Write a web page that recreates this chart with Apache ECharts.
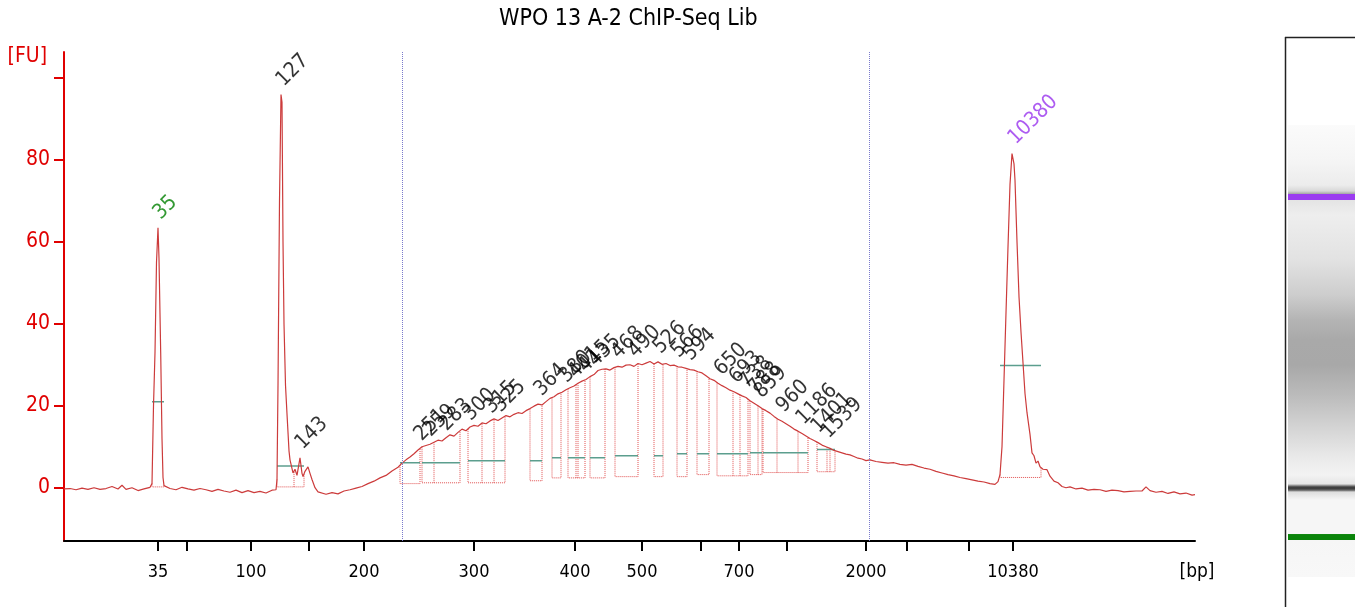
<!DOCTYPE html>
<html>
<head>
<meta charset="utf-8">
<script src="https://cdn.jsdelivr.net/npm/echarts@6/dist/echarts.min.js"></script>
<style>
  html, body { margin: 0; padding: 0; background: #fff; }
  #chart { width: 1355px; height: 607px; }
</style>
</head>
<body>
<div id="chart"></div>
<script>
// ladder: sizes (bp) and their migration position (data points)
var ladderBp = [35, 50, 100, 150, 200, 300, 400, 500, 600, 700, 1000, 2000, 3000, 7000, 10380];
var ladderX  = [94, 123, 187, 245, 300, 410, 511, 578, 637, 675, 723, 802, 843, 905, 949];
var labeledBp = [35, 100, 200, 300, 400, 500, 700, 2000, 10380];

var yTicks  = [0, 20, 40, 60, 80, 100];
var yLabels = [0, 20, 40, 60, 80];

// electropherogram trace
var traceX = [0, 6, 12, 18, 24, 30, 36, 42, 48, 54, 58, 62, 68, 74, 80, 86,
  87, 88, 89.5, 91, 92.5, 94, 95, 96.7, 98, 99, 100, 102,
  106, 112, 118, 124, 130, 136, 142, 148, 154, 160, 166, 172, 178, 184, 190, 196, 202, 208, 212,
  213, 214, 215.5, 217, 218, 219, 220, 221.5, 223, 225, 226, 229, 231, 233, 236, 238, 239, 241, 244, 246, 248, 251, 254,
  256, 262, 268, 274, 280, 286, 292, 298, 304, 310, 316, 322, 328, 334, 338,
  342, 346, 350, 354, 358, 362, 366, 370, 374, 378, 382, 386, 390, 394, 398, 402, 406, 410, 414, 418,
  422, 426, 430, 434, 438, 442, 446, 450, 454, 458, 462, 466, 470, 474, 478, 482, 486, 490, 494, 498,
  502, 506, 510, 514, 518, 522, 526, 530, 534, 538, 542, 546, 550, 554, 558, 562, 566, 570, 574, 578,
  582, 586, 590, 594, 598, 602, 606, 610, 614, 618, 622, 626, 630, 634, 638, 642, 646, 650, 654, 658,
  662, 666, 670, 674, 678, 682, 686, 690, 694, 698, 702, 706, 710, 714, 718, 722, 726, 730, 734, 738,
  742, 746, 750, 754, 758, 762, 766, 770, 774, 778, 782, 786, 790, 794, 798, 802, 806,
  812, 818, 824, 830, 836, 842, 848, 854, 860, 866, 872, 878, 884, 890, 896, 902, 908, 914, 920, 926, 931,
  934, 936, 938, 940, 942, 944, 946, 948, 949, 950, 951, 953, 955, 957, 959, 961, 963, 966, 968, 970, 972, 974, 976,
  979, 983, 986, 990, 994, 998, 1002, 1006, 1012, 1018, 1024, 1030, 1036, 1042, 1048, 1054, 1060, 1066, 1072, 1078,
  1082, 1086, 1092, 1098, 1104, 1110, 1116, 1122, 1128, 1131];
var traceFU = [-0.3, -0.2, -0.5, -0.1, -0.4, 0.0, -0.4, -0.2, 0.3, -0.3, 0.6, -0.4, 0.0, -0.7, -0.3, 0.1,
  0.2, 1, 20, 33, 55, 63.4, 56, 33, 12, 2.5, 0.5, 0.3,
  -0.2, -0.5, 0.1, -0.3, -0.6, -0.2, -0.5, -0.9, -0.4, -0.8, -1.1, -0.6, -1.2, -0.7, -1.2, -0.9, -1.3, -0.6, -0.5,
  2, 25, 70, 95.9, 94, 60, 40, 25, 18, 9, 6.8, 3.6, 4.5, 3.0, 7.3, 3.5, 2.7, 4, 5.1, 3.5, 2, 0, -1,
  -1.0, -1.6, -1.2, -1.5, -0.8, -0.5, -0.1, 0.3, 1.0, 1.6, 2.4, 3.0, 4.1, 5.0, 6.0,
  6.8, 7.5, 8.3, 9.2, 10.0, 10.3, 10.6, 11.1, 11.6, 11.4, 12.2, 12.9, 12.6, 13.5, 14.3, 13.9, 14.8, 15.2, 15.0, 15.8,
  15.6, 16.3, 16.8, 16.4, 17.0, 17.6, 17.3, 17.9, 18.3, 18.1, 18.8, 19.3, 19.9, 20.4, 20.2, 21.0, 21.8, 22.2, 22.9, 23.3,
  23.9, 24.4, 24.8, 25.5, 26.0, 26.4, 27.1, 27.6, 28.6, 28.9, 29.0, 28.7, 29.3, 29.6, 29.4, 29.9, 30.0, 29.6, 30.3, 30.0,
  30.4, 30.8, 30.2, 30.7, 30.1, 30.3, 29.8, 29.9, 29.5, 29.4, 29.1, 28.8, 28.7, 28.3, 28.0, 27.3, 26.6, 26.2, 25.5, 24.9,
  24.4, 23.8, 23.4, 22.9, 22.4, 22.0, 21.2, 20.6, 20.0, 19.3, 18.8, 18.2, 17.4, 16.7, 16.2, 15.6, 15.0, 14.3, 13.8, 13.2,
  12.6, 12.0, 11.5, 11.0, 10.4, 10.0, 9.6, 9.1, 8.8, 8.5, 8.2, 8.0, 7.6, 7.2, 7.0, 6.6, 6.8,
  6.4, 6.2, 6.0, 6.1, 5.7, 5.5, 5.7, 5.2, 4.8, 4.5, 4.0, 3.6, 3.2, 2.9, 2.5, 2.2, 1.9, 1.6, 1.4, 1.0, 0.8,
  1.5, 3.2, 10, 26.3, 42.7, 58.8, 74, 81.5, 81.7, 79, 75, 60, 46.6, 38, 30.5, 23, 18.3, 13, 8.5, 7.8, 6.0, 6.5, 5.1,
  4.5, 4.4, 2.8, 1.6, 1.2, 0.3, 0.0, 0.2, -0.3, -0.1, -0.6, -0.4, -0.5, -0.9, -0.6, -0.7, -1.0, -0.9, -0.8, -0.8,
  0.2, -0.7, -1.1, -0.9, -1.4, -1.0, -1.5, -1.3, -1.8, -1.7];

// region of interest markers
var regionMarks = [338, 805];

// integrated peaks: start / end / baseline / half-height line / internal splits
var boxStart  = [88, 213, 336, 358, 404, 466, 488, 504, 526, 551, 590, 613, 633, 653, 686, 699, 753, 936];
var boxEnd    = [100, 240, 356, 396, 441, 478, 497, 521, 541, 574, 599, 623, 645, 684, 698, 744, 771, 977];
var boxBase   = [0.2, 0.2, 1.0, 1.2, 1.2, 1.7, 2.4, 2.4, 2.4, 2.7, 2.7, 2.7, 3.2, 2.9, 3.2, 3.7, 3.9, 2.5];
var boxHalf   = [21, 5.3, 6.1, 6.1, 6.6, 6.6, 7.3, 7.3, 7.3, 7.8, 7.8, 8.3, 8.3, 8.3, 8.5, 8.5, 9.3, 29.8];
var boxSplits = [[], [230], [], [370], [418, 430], [], [], [512, 514], [], [], [], [], [], [669, 676], [694], [713, 734], [763, 766], []];

// peak size labels
var peakText = ['35', '127', '143', '251', '259', '283', '300', '315', '325', '364', '380', '401', '415', '435',
  '468', '490', '526', '566', '594', '650', '693', '738', '788', '859', '960', '1186', '1401', '1539', '10380'];
var peakX = [94, 217, 236, 355, 364, 380, 404, 425, 434, 475, 500, 509, 519, 529,
  552, 569, 594, 612, 624, 655, 670, 680, 689, 695, 717, 737, 752, 762, 949];

// gel lane (virtual gel)
var gelOffsets = [0, 0.077, 0.133, 0.146, 0.152, 0.1527, 0.166, 0.167, 0.199, 0.299, 0.376, 0.431, 0.476, 0.531,
  0.597, 0.664, 0.730, 0.774, 0.794, 0.800, 0.803, 0.808, 0.812, 0.830, 0.905, 0.906, 0.918, 0.919, 1];
var gelColors = ['#fbfbfb', '#f5f5f5', '#ececec', '#d8d8d8', '#a8a8a8', '#9b3cf0', '#9b3cf0', '#e4e4e4', '#eeeeee',
  '#e2e2e2', '#cdcdcd', '#b4b4b4', '#a9a9a9', '#a8a8a8', '#bbbbbb', '#d2d2d2', '#e8e8e8', '#f3f3f3', '#e6e6e6',
  '#555555', '#333333', '#666666', '#dddddd', '#f6f6f6', '#f6f6f6', '#0a840a', '#0a840a', '#f6f6f6', '#f8f8f8'];

var font = '"DejaVu Sans Condensed", "DejaVu Sans", sans-serif';

function traceAt(x) {
  for (var i = 1; i < traceX.length; i++) {
    if (traceX[i] >= x) {
      var f = (x - traceX[i - 1]) / (traceX[i] - traceX[i - 1]);
      return traceFU[i - 1] + f * (traceFU[i] - traceFU[i - 1]);
    }
  }
  return traceFU[traceFU.length - 1];
}

function bpAt(x) {
  var i = ladderX.indexOf(x);
  return i < 0 ? '' : String(ladderBp[i]);
}

var traceData = traceX.map(function (x, i) { return [x, traceFU[i]]; });

var boxLines = [];
var halfLines = [];
boxStart.forEach(function (s, i) {
  var e = boxEnd[i], b = boxBase[i];
  boxLines.push({ coords: [[s, traceAt(s)], [s, b], [e, b], [e, traceAt(e)]] });
  boxSplits[i].forEach(function (d) {
    boxLines.push({ coords: [[d, b], [d, traceAt(d)]] });
  });
  halfLines.push({ coords: [[s, boxHalf[i]], [e, boxHalf[i]]] });
});

var labelData = peakX.map(function (x, i) {
  var t = peakText[i];
  var c = '#000';
  if (t === '35') c = '#008000';
  if (t === '10380') c = '#9933ee';
  return { value: [x, traceAt(x)], label: { formatter: t, color: c } };
});

var labeledX = labeledBp.map(function (bp) { return ladderX[ladderBp.indexOf(bp)]; });

var gelStops = gelOffsets.map(function (o, i) { return { offset: o, color: gelColors[i] }; });

var chart = echarts.init(document.getElementById('chart'));
chart.setOption({
  animation: false,
  title: {
    text: 'WPO 13 A-2 ChIP-Seq Lib',
    left: 494, top: 3,
    textStyle: { fontFamily: font, fontSize: 23, fontWeight: 'normal', color: '#000' }
  },
  grid: { left: 64, right: 160, top: 52, bottom: 66 },
  xAxis: {
    type: 'value', min: 0, max: 1131,
    name: '[bp]', nameLocation: 'end', nameGap: 2,
    nameTextStyle: { align: 'center', verticalAlign: 'top', padding: [22, 0, 0, 0], fontSize: 19, color: '#000', fontFamily: font },
    axisLine: { onZero: false, lineStyle: { color: '#000', width: 2 } },
    axisTick: { customValues: ladderX, length: 10, lineStyle: { color: '#000', width: 2 } },
    axisLabel: { customValues: labeledX, formatter: bpAt, margin: 22, fontSize: 18, color: '#000', fontFamily: font },
    splitLine: { show: false }
  },
  yAxis: {
    type: 'value', min: -13, max: 106.3,
    name: '[FU]', nameLocation: 'end', nameGap: -5,
    nameTextStyle: { align: 'right', verticalAlign: 'middle', padding: [0, 17, 0, 0], fontSize: 21, color: '#e00000', fontFamily: font },
    axisLine: { show: true, lineStyle: { color: '#e00000', width: 2 } },
    axisTick: { show: true, customValues: yTicks, length: 10, lineStyle: { color: '#e00000', width: 2 } },
    axisLabel: { customValues: yLabels, margin: 14, fontSize: 21, color: '#e00000', fontFamily: font },
    splitLine: { show: false }
  },
  graphic: [
    { type: 'rect', shape: { x: 1288, y: 125, width: 67, height: 452 },
      style: { fill: new echarts.graphic.LinearGradient(0, 0, 0, 1, gelStops) } },
    { type: 'line', shape: { x1: 1285.5, y1: 37, x2: 1285.5, y2: 607 }, style: { stroke: '#222', lineWidth: 1.5 } },
    { type: 'line', shape: { x1: 1285, y1: 37.5, x2: 1355, y2: 37.5 }, style: { stroke: '#222', lineWidth: 1.5 } }
  ],
  series: [
    {
      type: 'lines', coordinateSystem: 'cartesian2d', polyline: true, silent: true, z: 2,
      lineStyle: { color: '#e05050', type: 'dotted', width: 1, opacity: 1 },
      data: boxLines
    },
    {
      type: 'lines', coordinateSystem: 'cartesian2d', polyline: true, silent: true, z: 3,
      lineStyle: { color: '#5c9e8e', width: 1.5, opacity: 1 },
      data: halfLines
    },
    {
      type: 'line', data: traceData, showSymbol: false, z: 4,
      lineStyle: { color: '#cc3b3b', width: 1.2 },
      markLine: {
        silent: true, symbol: 'none', label: { show: false },
        lineStyle: { type: 'dotted', color: '#7a7acc', width: 1 },
        data: regionMarks.map(function (x) { return { xAxis: x }; })
      }
    },
    {
      type: 'scatter', symbolSize: 0, z: 5,
      label: {
        show: true, position: 'inside', align: 'left', verticalAlign: 'bottom',
        rotate: 45, offset: [7.5, 1.6], fontSize: 21, fontFamily: font
      },
      data: labelData
    }
  ]
});
</script>
</body>
</html>
